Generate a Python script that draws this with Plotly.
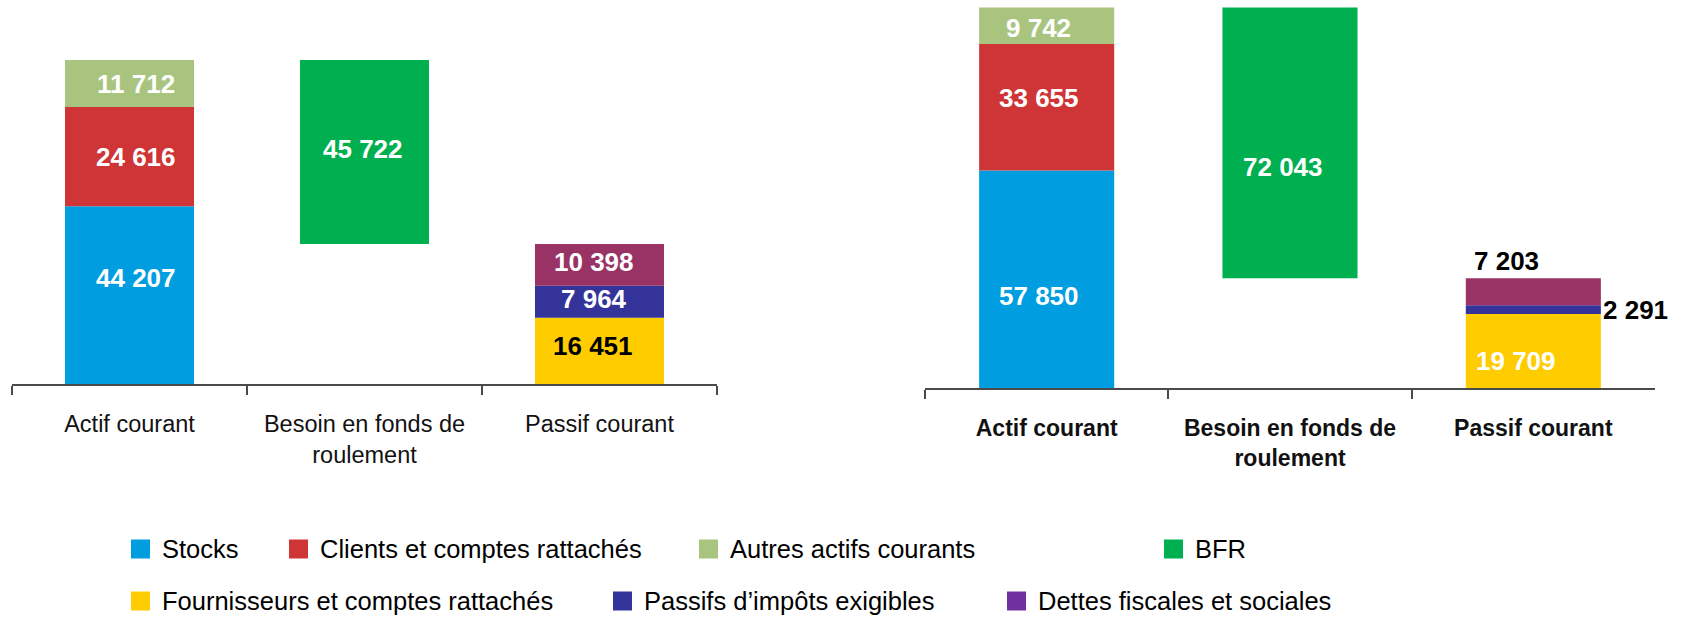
import plotly.graph_objects as go

W, H = 1681, 617
FONT = "Liberation Sans, Arial, sans-serif"

categories = ["Actif courant", "Besoin en fonds de<br>roulement", "Passif courant"]

actif_names = ["Stocks", "Clients et comptes rattachés", "Autres actifs courants"]
passif_names = ["Fournisseurs et comptes rattachés", "Passifs d’impôts exigibles",
                "Dettes fiscales et sociales"]

# left panel
left_actif = [44207, 24616, 11712]
left_passif = [16451, 7964, 10398]
left_bfr = 45722

# right panel
right_actif = [57850, 33655, 9742]
right_passif = [19709, 2291, 7203]
right_bfr = 72043

actif_colors = ["#009EE0", "#CF3436", "#A9C47F"]
passif_colors = ["#FFCC00", "#333399", "#993366"]
bfr_color = "#00B050"

legend_labels = ["Stocks", "Clients et comptes rattachés", "Autres actifs courants", "BFR",
                 "Fournisseurs et comptes rattachés", "Passifs d’impôts exigibles",
                 "Dettes fiscales et sociales"]
legend_colors = ["#009EE0", "#CF3436", "#A9C47F", "#00B050", "#FFCC00", "#333399", "#7030A0"]


def fmt(v):
    return f"{v:,}".replace(",", " ")


fig = go.Figure()
annotations = []


def add_panel(actif, passif, bfr, xa, ya, bar_w, offsets, label_colors):
    """Draw one panel: stacked actif, floating BFR, stacked passif"""
    segs = []
    base = 0
    for name, v, c in zip(actif_names, actif, actif_colors):
        segs.append((categories[0], name, v, base, c))
        base += v
    segs.append((categories[1], "BFR", bfr, sum(passif), bfr_color))
    base = 0
    for name, v, c in zip(passif_names, passif, passif_colors):
        segs.append((categories[2], name, v, base, c))
        base += v

    for i, (cat, name, v, b, c) in enumerate(segs):
        fig.add_trace(go.Bar(
            x=[cat], y=[v], base=[b], width=bar_w, name=name,
            marker=dict(color=c, line=dict(width=0)),
            xaxis=xa, yaxis=ya, showlegend=False,
            hovertemplate=f"{name}: {fmt(v)}<extra></extra>",
        ))
        dx, dy, mode = offsets[i]
        ann = dict(x=cat, xref=xa, yref=ya, text=fmt(v), showarrow=False,
                   font=dict(family=FONT, size=26, color=label_colors[i], weight="bold"),
                   xshift=dx, yshift=-dy)
        if mode == "mid":
            ann.update(y=b + v / 2, xanchor="center", yanchor="middle")
        elif mode == "top":
            ann.update(y=b + v, xanchor="center", yanchor="bottom")
        elif mode == "right":
            ann.update(y=b + v / 2, xanchor="left", yanchor="middle")
        annotations.append(ann)


# offsets (dx, dy in px, placement) for each value label
left_offsets = [(6, -17, "mid"), (6, 0, "mid"), (6, 0, "mid"), (-2, -3, "mid"),
                (-7, -5, "mid"), (-6, -3, "mid"), (-6, -3, "mid")]
left_label_colors = ["white", "white", "white", "white", "black", "white", "white"]
right_offsets = [(-8, 17, "mid"), (-8, -9, "mid"), (-8, 2, "mid"), (-7, 24, "mid"),
                 (-17, 10, "mid"), (68, 0, "right"), (-27, 0, "top")]
right_label_colors = ["white", "white", "white", "white", "white", "black", "black"]

add_panel(left_actif, left_passif, left_bfr, "x", "y", 0.549, left_offsets, left_label_colors)
add_panel(right_actif, right_passif, right_bfr, "x2", "y2", 0.555, right_offsets, right_label_colors)

# plot geometry in pixels
left_axis_px, left_top_px = 384, 60
right_axis_px, right_top_px = 388, 7.5
left_ymax = sum(left_actif) * left_axis_px / (left_axis_px - left_top_px)
right_ymax = sum(right_actif) * right_axis_px / (right_axis_px - right_top_px)

xcommon = dict(type="category", range=[-0.5, 2.5], showline=True, linecolor="#4a4a4a",
               linewidth=2, ticks="outside", tickson="boundaries", ticklen=9,
               tickcolor="#4a4a4a", tickwidth=2, showgrid=False, zeroline=False,
               fixedrange=True, ticklabelstandoff=18)

fig.update_layout(
    width=W, height=H,
    margin=dict(l=0, r=0, t=0, b=0),
    paper_bgcolor="white", plot_bgcolor="white",
    barmode="overlay",
    font=dict(family=FONT, color="black"),
    xaxis=dict(domain=[12 / W, 717 / W], anchor="y",
               tickfont=dict(family=FONT, size=23.5, color="#111111"), **xcommon),
    yaxis=dict(domain=[(H - left_axis_px) / H, 1], range=[0, left_ymax], visible=False,
               fixedrange=True),
    xaxis2=dict(domain=[925 / W, 1655 / W], anchor="y2",
                tickfont=dict(family=FONT, size=23, color="#111111", weight="bold"), **xcommon),
    yaxis2=dict(domain=[(H - right_axis_px) / H, 1], range=[0, right_ymax], visible=False,
                fixedrange=True),
)

# custom legend (two rows)
legend_x = [131, 289, 699, 1164, 131, 613, 1007]
legend_y = [549, 549, 549, 549, 601, 601, 601]
shapes = []
for lx, ly, lab, col in zip(legend_x, legend_y, legend_labels, legend_colors):
    shapes.append(dict(type="rect", xref="paper", yref="paper",
                       x0=lx / W, x1=(lx + 19) / W,
                       y0=1 - (ly + 9.5) / H, y1=1 - (ly - 9.5) / H,
                       fillcolor=col, line=dict(width=0)))
    annotations.append(dict(x=(lx + 29) / W, y=1 - ly / H, xref="paper", yref="paper",
                            text=lab, showarrow=False, xanchor="left", yanchor="middle",
                            font=dict(family=FONT, size=25.5, color="black")))

fig.update_layout(shapes=shapes, annotations=annotations)

# drop the default page margin so the figure sits at the window's top-left corner
fig.write_html("out.html", config={"displayModeBar": False},
               post_script="document.body.style.margin='0';document.body.style.overflow='hidden';")
